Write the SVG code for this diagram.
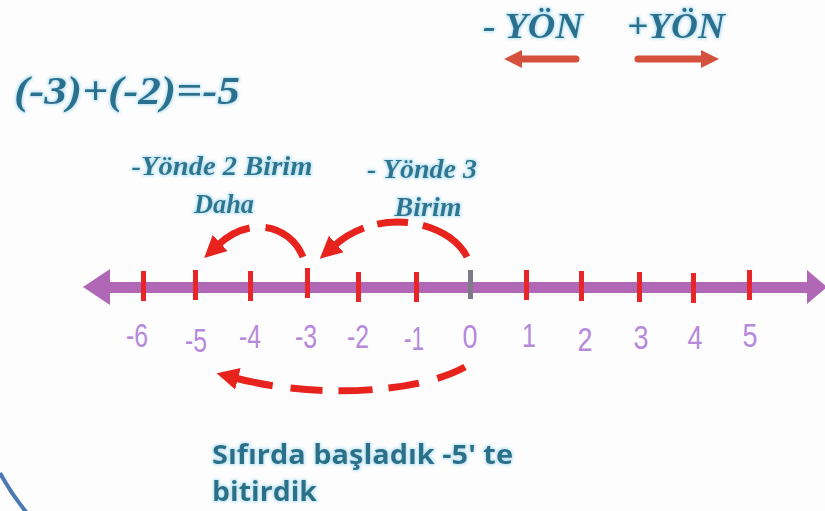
<svg xmlns="http://www.w3.org/2000/svg" width="825" height="511" viewBox="0 0 825 511">
<defs>
<style>
.title{font-family:"Liberation Serif","Times New Roman",serif;font-weight:bold;font-style:italic;fill:#2b718f}
.lbl{font-family:"Liberation Serif","Times New Roman",serif;font-weight:bold;font-style:italic;fill:#2e7690;font-size:27px}
.num{font-family:"Liberation Sans","Arial",sans-serif;fill:#b689db;font-size:33px;text-anchor:middle}
.note{font-family:"Open Sans","Noto Sans",sans-serif;font-weight:bold;fill:#2c6f88;font-size:26px}
.tick{fill:#e8262a}
.jump{fill:none;stroke:#e8231e;stroke-width:7}
.dir{fill:none;stroke:#d4513d;stroke-width:7;stroke-linecap:round}
</style>
<filter id="glow" x="-10%" y="-30%" width="120%" height="160%">
<feMorphology in="SourceAlpha" operator="dilate" radius="1" result="d"/>
<feGaussianBlur in="d" stdDeviation="1.6" result="b"/>
<feFlood flood-color="#a8dcf0" flood-opacity="0.8"/>
<feComposite in2="b" operator="in" result="g"/>
<feMerge><feMergeNode in="g"/><feMergeNode in="SourceGraphic"/></feMerge>
</filter>
<marker id="head" markerUnits="userSpaceOnUse" markerWidth="24" markerHeight="24" viewBox="0 0 24 24" refX="3" refY="12" orient="auto">
<path d="M0,1 L22,12 L0,23 z" fill="#e8231e"/>
</marker>
</defs>
<rect width="825" height="511" fill="#fdfdfd"/>

<g id="equation" filter="url(#glow)">
<text class="title" x="14" y="104" font-size="40" textLength="226" lengthAdjust="spacingAndGlyphs">(-3)+(-2)=-5</text>
</g>

<g id="direction-legend">
<g filter="url(#glow)">
<text class="title" x="483" y="38" font-size="35" textLength="100" lengthAdjust="spacingAndGlyphs">- YÖN</text>
<text class="title" x="627" y="38" font-size="35" textLength="98" lengthAdjust="spacingAndGlyphs">+YÖN</text>
</g>
<line class="dir" x1="576" y1="59" x2="518" y2="59"/>
<polygon points="504,59 522,50 522,68" fill="#d4513d"/>
<line class="dir" x1="638" y1="59" x2="704" y2="59"/>
<polygon points="719,59 701,50 701,68" fill="#d4513d"/>
</g>

<g id="number-line">
<rect x="104" y="282" width="706" height="11" fill="#b068b6"/>
<polygon points="83,287 110,269 110,305" fill="#b068b6"/>
<polygon points="827,287 807,270 807,304" fill="#b068b6"/>
<rect class="tick" x="141" y="271" width="5" height="30"/>
<rect class="tick" x="193" y="270" width="5" height="30"/>
<rect class="tick" x="248" y="271" width="5" height="30"/>
<rect class="tick" x="305" y="268" width="5" height="30"/>
<rect class="tick" x="356" y="272" width="5" height="30"/>
<rect class="tick" x="414" y="272" width="5" height="30"/>
<rect x="468" y="270" width="5" height="29" fill="#7d7b88"/>
<rect class="tick" x="524" y="270" width="5" height="30"/>
<rect class="tick" x="579" y="271" width="5" height="30"/>
<rect class="tick" x="637" y="272" width="5" height="30"/>
<rect class="tick" x="691" y="273" width="5" height="30"/>
<rect class="tick" x="747" y="270" width="5" height="30"/>
<text class="num" x="137" y="347" textLength="22" lengthAdjust="spacingAndGlyphs">-6</text>
<text class="num" x="196" y="352" textLength="22" lengthAdjust="spacingAndGlyphs">-5</text>
<text class="num" x="250" y="348" textLength="22" lengthAdjust="spacingAndGlyphs">-4</text>
<text class="num" x="306" y="348" textLength="22" lengthAdjust="spacingAndGlyphs">-3</text>
<text class="num" x="358" y="348" textLength="22" lengthAdjust="spacingAndGlyphs">-2</text>
<text class="num" x="414" y="350" textLength="20" lengthAdjust="spacingAndGlyphs">-1</text>
<text class="num" x="470" y="348" textLength="15" lengthAdjust="spacingAndGlyphs">0</text>
<text class="num" x="529" y="347" textLength="14" lengthAdjust="spacingAndGlyphs">1</text>
<text class="num" x="585" y="351" textLength="15" lengthAdjust="spacingAndGlyphs">2</text>
<text class="num" x="641" y="349" textLength="15" lengthAdjust="spacingAndGlyphs">3</text>
<text class="num" x="695" y="349" textLength="15" lengthAdjust="spacingAndGlyphs">4</text>
<text class="num" x="750" y="347" textLength="15" lengthAdjust="spacingAndGlyphs">5</text>
</g>

<g id="label-first-jump" filter="url(#glow)">
<text class="lbl" x="422" y="178" text-anchor="middle" textLength="110" lengthAdjust="spacingAndGlyphs">- Yönde 3</text>
<text class="lbl" x="428" y="216" text-anchor="middle" textLength="67" lengthAdjust="spacingAndGlyphs">Birim</text>
</g>

<g id="label-second-jump" filter="url(#glow)">
<text class="lbl" x="222" y="175" text-anchor="middle" textLength="181" lengthAdjust="spacingAndGlyphs">-Yönde 2 Birim</text>
<text class="lbl" x="224" y="213" text-anchor="middle" textLength="60" lengthAdjust="spacingAndGlyphs">Daha</text>
</g>

<g id="note" filter="url(#glow)">
<text class="note" x="212" y="464" textLength="301" lengthAdjust="spacingAndGlyphs">Sıfırda başladık -5' te</text>
<text class="note" x="212" y="501" textLength="105" lengthAdjust="spacingAndGlyphs">bitirdik</text>
</g>

<g id="connectors">
<path class="jump" d="M467,257 C450,222 380,205 334,246" stroke-dasharray="56 15 31 14 300" marker-end="url(#head)"/>
<path class="jump" d="M303,257 C290,225 250,215 218,245" stroke-dasharray="50 16 300" marker-end="url(#head)"/>
<path class="jump" d="M465,367 C420,392 320,400 235,378" stroke-dasharray="30 19 31 16 34 16 32 18 300" marker-end="url(#head)"/>
</g>

<path d="M0,473 Q12,495 27,513" fill="none" stroke="#4a79b4" stroke-width="4"/>
</svg>
